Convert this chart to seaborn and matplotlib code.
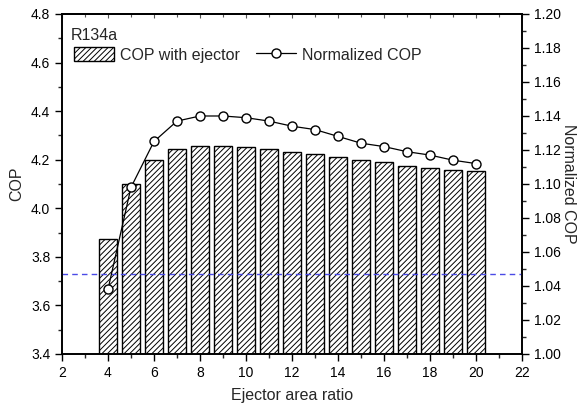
import matplotlib
matplotlib.use("Agg")
import matplotlib.pyplot as plt
import seaborn as sns
import numpy as np
import pandas as pd
from matplotlib.patches import Patch
from matplotlib.lines import Line2D
from matplotlib.ticker import MultipleLocator, FormatStrFormatter, NullFormatter

# ---- data ----
area_ratio = [4, 5, 6, 7, 8, 9, 10, 11, 12, 13, 14, 15, 16, 17, 18, 19, 20]
cop_ejector = [3.873, 4.099, 4.198, 4.244, 4.255, 4.255, 4.251, 4.245, 4.232,
               4.223, 4.210, 4.198, 4.190, 4.175, 4.167, 4.158, 4.152]
normalized_cop = [1.038, 1.098, 1.125, 1.137, 1.140, 1.140, 1.139, 1.137, 1.134,
                  1.132, 1.128, 1.124, 1.122, 1.119, 1.117, 1.114, 1.112]
baseline_cop = 3.731
refrigerant = "R134a"

df = pd.DataFrame({"ratio": area_ratio, "cop": cop_ejector, "norm": normalized_cop})

sns.set_theme(style="ticks")
plt.rcParams["font.family"] = ["Liberation Sans", "DejaVu Sans"]
plt.rcParams["hatch.linewidth"] = 0.7

fig = plt.figure(figsize=(5.83, 4.08), dpi=100)
ax = fig.add_axes([0.1063, 0.1324, 0.7891, 0.8333])

HATCH = "//////"
sns.barplot(data=df, x="ratio", y="cop", native_scale=True, width=0.8,
            color="white", edgecolor="black", linewidth=1.0, ax=ax, zorder=2)
for p in ax.patches:
    p.set_facecolor("white")
    p.set_edgecolor("black")
    p.set_hatch(HATCH)

ax.axhline(baseline_cop, color="#4a4ae6", linestyle=(0, (4, 3)), linewidth=1.0, zorder=3)

ax.set_xlim(2, 22)
ax.set_ylim(3.4, 4.8)
ax.xaxis.set_major_locator(MultipleLocator(2))
ax.xaxis.set_minor_locator(MultipleLocator(1))
ax.yaxis.set_major_locator(MultipleLocator(0.2))
ax.yaxis.set_minor_locator(MultipleLocator(0.1))
ax.xaxis.set_major_formatter(FormatStrFormatter("%d"))
ax.yaxis.set_major_formatter(FormatStrFormatter("%.1f"))
ax.set_xlabel("Ejector area ratio", fontsize=11.5, labelpad=6)
ax.set_ylabel("COP", fontsize=11.5, labelpad=5)
ax.tick_params(axis="both", which="major", direction="out", length=5, width=1,
               labelsize=10, colors="black", top=False)
ax.tick_params(axis="both", which="minor", direction="out", length=3, width=1, top=False)
for s in ax.spines.values():
    s.set_visible(True)
    s.set_linewidth(1.2)
    s.set_color("black")

# top axis: small inward ticks, no labels
top = ax.secondary_xaxis("top")
top.xaxis.set_major_locator(MultipleLocator(2))
top.xaxis.set_minor_locator(MultipleLocator(1))
top.xaxis.set_major_formatter(NullFormatter())
top.tick_params(axis="x", which="major", direction="in", length=3, width=0.8, colors="#555555")
top.tick_params(axis="x", which="minor", direction="in", length=2, width=0.8, colors="#555555")
top.spines["top"].set_linewidth(1.2)
top.spines["top"].set_color("black")

ax2 = ax.twinx()
sns.lineplot(data=df, x="ratio", y="norm", ax=ax2, color="black", linewidth=0.9,
             marker="o", markersize=6.5, markerfacecolor="white",
             markeredgecolor="black", markeredgewidth=1.0, zorder=4)
ax2.set_ylim(1.00, 1.20)
ax2.yaxis.set_major_locator(MultipleLocator(0.02))
ax2.yaxis.set_minor_locator(MultipleLocator(0.01))
ax2.yaxis.set_major_formatter(FormatStrFormatter("%.2f"))
ax2.set_ylabel("Normalized COP", fontsize=11.5, rotation=270, labelpad=11)
ax2.set_xlabel("")
ax2.tick_params(axis="y", which="major", direction="out", length=5, width=1,
                labelsize=10, colors="black")
ax2.tick_params(axis="y", which="minor", direction="out", length=3, width=1)
ax2.set_xlim(2, 22)
for s in ax2.spines.values():
    s.set_linewidth(1.2)
    s.set_color("black")

handles = [
    Patch(facecolor="white", edgecolor="black", hatch=HATCH, linewidth=1.0),
    Line2D([], [], color="black", linewidth=0.9, marker="o", markersize=6.5,
           markerfacecolor="white", markeredgecolor="black"),
]
ax.text(0.02, 0.96, refrigerant, transform=ax.transAxes, fontsize=11.5,
        va="top", ha="left")
ax.legend(handles, ["COP with ejector", "Normalized COP"], loc="upper left",
          bbox_to_anchor=(0.005, 0.93), ncol=2, frameon=False, fontsize=11.5,
          handlelength=2.5, handleheight=0.9, columnspacing=1.0,
          handletextpad=0.4, borderaxespad=0.2)

fig.savefig("out.png", dpi=100)
